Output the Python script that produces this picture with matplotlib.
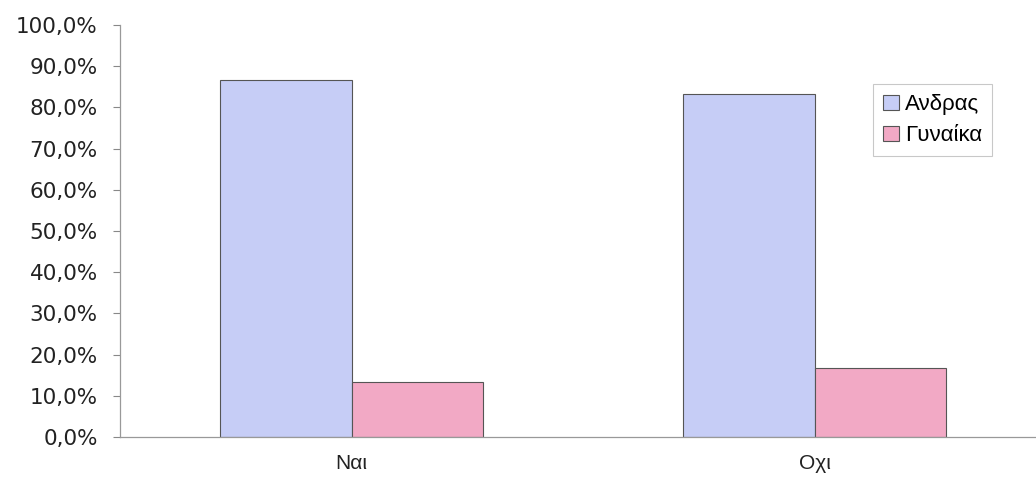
import matplotlib
matplotlib.use("Agg")
import matplotlib.pyplot as plt
import numpy as np
from matplotlib.ticker import FuncFormatter

categories = ["Ναι", "Οχι"]
series_names = ["Ανδρας", "Γυναίκα"]
men = [86.7, 83.3]
women = [13.3, 16.7]
yticks = [0, 10, 20, 30, 40, 50, 60, 70, 80, 90, 100]

plt.rcParams['font.family'] = ['Liberation Sans', 'DejaVu Sans']

W, H = 1036, 492
fig = plt.figure(figsize=(W/100, H/100), dpi=100)
ax = fig.add_axes([120/W, (H-437)/H, 926/W, 412/H])

x = np.arange(len(categories))
bw = 0.285
c_men = "#C6CDF6"
c_women = "#F2A9C5"
ax.bar(x - bw/2, men, width=bw, color=c_men, edgecolor="#555555", linewidth=0.8, label=series_names[0])
ax.bar(x + bw/2, women, width=bw, color=c_women, edgecolor="#555555", linewidth=0.8, label=series_names[1])

ax.set_xlim(-0.5, 1.5)
ax.set_ylim(0, 100)
ax.set_yticks(yticks)
ax.yaxis.set_major_formatter(FuncFormatter(lambda v, p: f"{v:.1f}%".replace(".", ",")))
ax.tick_params(axis='y', direction='out', length=5, width=0.8, color="#888888",
               labelcolor="#222222", pad=11)
for lab in ax.get_yticklabels():
    lab.set_family(['DejaVu Sans'])
    lab.set_fontsize(15.5)
ax.set_xticks(x)
ax.set_xticklabels(categories, fontsize=15)
ax.tick_params(axis='x', length=0, labelcolor="#222222", pad=12)

for s in ["top", "right"]:
    ax.spines[s].set_visible(False)
for s in ["left", "bottom"]:
    ax.spines[s].set_color("#999999")
    ax.spines[s].set_linewidth(0.9)

leg = ax.legend(loc="upper left", bbox_to_anchor=((862-120)/926, (437-73)/412),
                fontsize=16, frameon=True, fancybox=False, handlelength=0.7,
                handleheight=0.7, handletextpad=0.3, borderpad=0.45, labelspacing=0.45)
leg.get_frame().set_edgecolor("#BBBBBB")
leg.get_frame().set_linewidth(0.8)

fig.savefig("out.png", dpi=100)
